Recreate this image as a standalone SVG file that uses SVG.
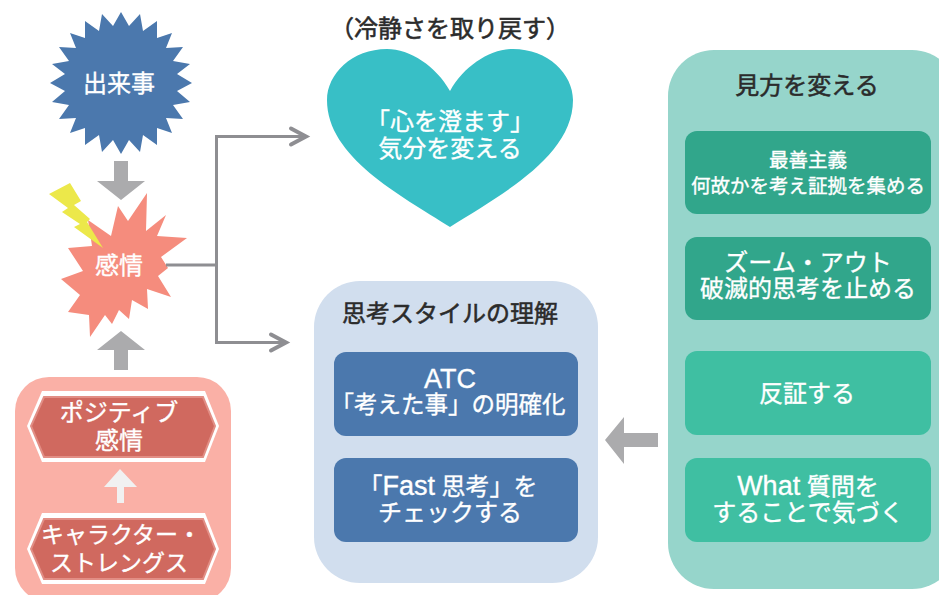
<svg xmlns="http://www.w3.org/2000/svg" width="939" height="595" viewBox="0 0 939 595">
<defs>
<style>
text{font-family:"Liberation Sans","Noto Sans CJK JP",sans-serif;text-anchor:middle;font-weight:400}
.w{fill:#fff;stroke:#fff;stroke-width:.35px;font-size:24px}
.d{fill:#2b2b2b;stroke:#2b2b2b;stroke-width:.55px;font-size:24px}
.l{font-size:27px}
.c{fill:none;stroke:#8e8e92;stroke-width:3}
.h{fill:none;stroke:#8e8e92;stroke-width:4;stroke-linecap:round}
.hexo{fill:#fff}
.hex{fill:#d0695f;stroke:#e28e85;stroke-width:2}
.tb{fill:#31a68b}
.tl{fill:#3fbfa2}
.b{fill:#4b78ad}
</style>
</defs>
<g id="event">
<path fill="#4b78ad" d="M121 12L129 26L140 14L143 31L157 21L157 38L172 33L166 48L183 47L173 61L190 64L177 74L192 83L177 91L190 102L173 105L183 119L166 118L172 133L157 128L157 145L143 135L140 152L129 140L121 154L113 140L102 152L99 135L85 145L85 128L70 133L76 118L59 119L69 105L52 102L65 91L50 83L65 74L52 64L69 61L59 47L76 48L70 33L85 38L85 21L99 31L102 14L113 26Z"/>
<text class="w" x="119" y="92">出来事</text>
</g>
<g id="emotion">
<path fill="#f58c7d" d="M147 193L146 231L166 215L157 236L187 238L161 257L168 268L158 276L171 297L147 289L148 309L132 300L129 319L119 310L112 324L105 315L90 337L89 315L68 312L80 295L61 279L83 271L68 248L92 246L88 220L111 236L118 206L128 221Z"/>
<path fill="#ece84a" d="M49 194L70 183L81 201L74 205L90 219L87 222L103 248L74 227L80 224L62 212L68 208Z"/>
<text class="w" x="119" y="274">感情</text>
</g>
<g id="strengths">
<rect x="15" y="377" width="216" height="225" rx="34" fill="#fab0a6"/>
<g id="positive">
<path class="hexo" d="M42 391H205L219 426L205 462H42L27 426Z"/>
<path class="hex" d="M44 397H203L215 426L203 457H44L31 426Z"/>
<text class="w" x="119" y="421">ポジティブ<tspan x="119" dy="28">感情</tspan></text>
</g>
<g id="character">
<path class="hexo" d="M42 513H205L219 549L205 584H42L27 549Z"/>
<path class="hex" d="M44 519H203L215 549L203 579H44L31 549Z"/>
<text class="w" x="121" y="543" style="font-size:23px">キャラクター・<tspan x="119" dy="28">ストレングス</tspan></text>
</g>
</g>
<g id="heart">
<text class="d" x="450" y="37">（冷静さを取り戻す）</text>
<path fill="#38bfc6" d="M450 91C436 66 410 49 387 49C352 49 327 74 327 100C327 157 400 195 450 227C500 195 573 157 573 100C573 74 548 49 513 49C490 49 464 66 450 91Z"/>
<text class="w" x="450" y="130">「心を澄ます」<tspan x="450" dy="27">気分を変える</tspan></text>
</g>
<g id="style">
<rect x="314" y="281" width="284" height="302" rx="46" fill="#d1deee"/>
<text class="d" x="450" y="322">思考スタイルの理解</text>
<g id="atc">
<rect class="b" x="334" y="352" width="244" height="84" rx="12"/>
<text class="w" x="450" y="388"><tspan class="l">ATC</tspan><tspan x="448" dy="25" style="font-size:23.500px">「考えた事」の明確化</tspan></text>
</g>
<g id="fast">
<rect class="b" x="334" y="458" width="244" height="84" rx="12"/>
<text class="w" x="448" y="495">「<tspan class="l">Fast</tspan> 思考」を<tspan x="450" dy="26">チェックする</tspan></text>
</g>
</g>
<g id="view">
<rect x="668" y="50" width="290" height="539" rx="46" fill="#96d5cb"/>
<text class="d" x="807" y="94">見方を変える</text>
<g id="v1">
<rect class="tb" x="685" y="131" width="246" height="83" rx="12"/>
<text class="w" x="808" y="167" style="font-size:19.500px">最善主義<tspan x="808" dy="26">何故かを考え証拠を集める</tspan></text>
</g>
<g id="v2">
<rect class="tb" x="685" y="237" width="246" height="83" rx="12"/>
<text class="w" x="808" y="271">ズーム・アウト<tspan x="808" dy="26">破滅的思考を止める</tspan></text>
</g>
<g id="v3">
<rect class="tl" x="685" y="351" width="246" height="84" rx="12"/>
<text class="w" x="807" y="402">反証する</text>
</g>
<g id="v4">
<rect class="tl" x="685" y="458" width="246" height="84" rx="12"/>
<text class="w" x="808" y="495"><tspan class="l">What</tspan> 質問を<tspan x="808" dy="26">することで気づく</tspan></text>
</g>
</g>
<g id="connectors">
<path class="c" d="M166 265H216.500V136.500H305M216.500 265V342.500H285"/>
<path class="h" d="M291 128.500L306 136.500L291 144.500"/>
<path class="h" d="M271 334.500L286 342.500L271 350.500"/>
<path fill="#ababad" d="M114 161H128V181H145L121 200L97 181H114Z"/>
<path fill="#ababad" d="M114 370H128V350H145L121 331L97 350H114Z"/>
<path fill="#ababad" d="M658 433V447H624V464L605 440L624 417V433Z"/>
<path fill="#f1f1f1" d="M117 503H124V487H137L120 469L104 487H117Z"/>
</g>
</svg>
